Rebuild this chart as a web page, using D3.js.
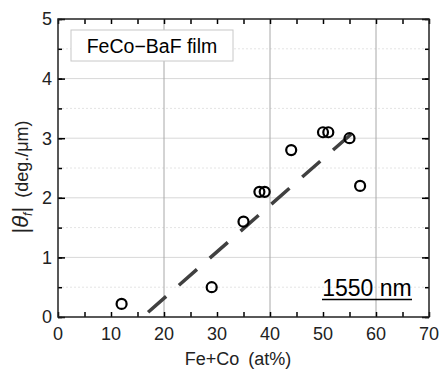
<!DOCTYPE html>
<html>
<head>
<meta charset="utf-8">
<script src="https://cdn.jsdelivr.net/npm/d3@7"></script>
<style>
  body { margin: 0; background: #fff; }
  text { font-family: "Liberation Sans", Arial, sans-serif; }
</style>
</head>
<body>
<svg id="chart" width="439" height="370"></svg>
<script>
// measured points
const feco = [12, 29, 35, 38, 39, 44, 50, 51, 55, 57];
const theta = [0.22, 0.5, 1.6, 2.1, 2.1, 2.8, 3.1, 3.1, 3.0, 2.2];
// dashed guide line (start, end)
const fitX = [17, 57];
const fitY = [0.08, 3.2];
const xTicks = [0, 10, 20, 30, 40, 50, 60, 70];
const yTicks = [0, 1, 2, 3, 4, 5];

const margin = { left: 58, right: 10, top: 19, bottom: 53 };
const width = 439, height = 370;

const svg = d3.select("#chart");

const x = d3.scaleLinear().domain([0, 70]).range([margin.left, width - margin.right]);
const y = d3.scaleLinear().domain([0, 5]).range([height - margin.bottom, margin.top]);

// grid
const grid = svg.append("g");
grid.selectAll(".gminor")
  .data([0.5, 1.5, 2.5, 3.5, 4.5])
  .enter().append("line")
  .attr("x1", x(0)).attr("x2", x(70))
  .attr("y1", d => y(d)).attr("y2", d => y(d))
  .style("stroke", "#e4e4e4")
  .style("stroke-dasharray", "2,2")
  .style("stroke-width", 1);
grid.selectAll(".gy")
  .data([1, 2, 3, 4])
  .enter().append("line")
  .attr("x1", x(0)).attr("x2", x(70))
  .attr("y1", d => y(d)).attr("y2", d => y(d))
  .style("stroke", "#d8d8d8")
  .style("stroke-width", 1);
grid.selectAll(".gx")
  .data([20, 40, 60])
  .enter().append("line")
  .attr("x1", d => x(d)).attr("x2", d => x(d))
  .attr("y1", y(0)).attr("y2", y(5))
  .style("stroke", "#a8a8a8")
  .style("stroke-width", 1);

// axes, ticks pointing inward
const xMinor = d3.range(0, 71, 5);
const yMinor = d3.range(0, 5.01, 0.5);
function tickGroup(axis, scale, vals, size) {
  return svg.append("g").call(axis(scale).tickValues(vals).tickSize(size).tickFormat(""));
}
tickGroup(d3.axisBottom, x, xMinor, -5).attr("transform", `translate(0,${y(0)})`);
tickGroup(d3.axisTop, x, xMinor, -5).attr("transform", `translate(0,${y(5)})`);
tickGroup(d3.axisLeft, y, yMinor, -4).attr("transform", `translate(${x(0)},0)`);
tickGroup(d3.axisRight, y, yMinor, -4).attr("transform", `translate(${x(70)},0)`);
tickGroup(d3.axisLeft, y, yTicks, -7).attr("transform", `translate(${x(0)},0)`);
tickGroup(d3.axisRight, y, yTicks, -7).attr("transform", `translate(${x(70)},0)`);
svg.selectAll(".domain").remove();
svg.selectAll(".tick line").style("stroke", "#000").style("stroke-width", 1.5);

// frame
svg.append("rect")
  .attr("x", x(0)).attr("y", y(5))
  .attr("width", x(70) - x(0)).attr("height", y(0) - y(5))
  .attr("fill", "none")
  .style("stroke", "#222")
  .style("stroke-width", 1.5);

// tick labels
svg.selectAll(".xl")
  .data(xTicks)
  .enter().append("text")
  .attr("x", d => x(d))
  .attr("y", y(0) + 23)
  .attr("text-anchor", "middle")
  .style("font-size", "18px")
  .attr("fill", "#222")
  .text(d => d);
svg.selectAll(".yl")
  .data(yTicks)
  .enter().append("text")
  .attr("x", x(0) - 6)
  .attr("y", d => y(d))
  .attr("dy", "0.36em")
  .attr("text-anchor", "end")
  .style("font-size", "18px")
  .attr("fill", "#222")
  .text(d => d);

// axis titles
svg.append("text")
  .attr("x", 238).attr("y", 365)
  .attr("text-anchor", "middle")
  .style("font-size", "18px")
  .attr("fill", "#222")
  .text("Fe+Co\u2002(at%)");

const yt = svg.append("text")
  .attr("transform", `translate(28,177) rotate(-90)`)
  .attr("text-anchor", "middle")
  .style("font-size", "18px")
  .attr("fill", "#222");
yt.append("tspan").style("font-size", "22px").text("|");
yt.append("tspan").style("font-style", "italic").style("font-size", "22px").text("\u03b8");
yt.append("tspan").style("font-style", "italic").style("font-size", "12px").attr("dy", 4).text("f");
yt.append("tspan").style("font-size", "22px").attr("dy", -4).text("|");
yt.append("tspan").text("\u2002(deg./\u03bcm)");

// dashed line
svg.append("line")
  .attr("x1", x(fitX[0])).attr("y1", y(fitY[0]))
  .attr("x2", x(fitX[1])).attr("y2", y(fitY[1]))
  .style("stroke", "#404040")
  .style("stroke-width", 3.5)
  .style("stroke-dasharray", "24,17");

// points
svg.selectAll(".pt")
  .data(feco)
  .enter().append("circle")
  .attr("cx", d => x(d))
  .attr("cy", (d, i) => y(theta[i]))
  .attr("r", 5)
  .attr("fill", "none")
  .style("stroke", "#000")
  .style("stroke-width", 2.2);

// legend box
svg.append("rect")
  .attr("x", 71).attr("y", 30)
  .attr("width", 162).attr("height", 31)
  .attr("fill", "#fff")
  .style("stroke", "#c8c8c8")
  .style("stroke-width", 1);
svg.append("text")
  .attr("x", 152).attr("y", 53)
  .attr("text-anchor", "middle")
  .style("font-size", "19.5px")
  .attr("fill", "#000")
  .text("FeCo\u2212BaF film");

// wavelength label
svg.append("text")
  .attr("x", 367).attr("y", 296)
  .attr("text-anchor", "middle")
  .style("font-size", "23px")
  .attr("fill", "#000")
  .text("1550 nm");
svg.append("line")
  .attr("x1", 322).attr("x2", 412)
  .attr("y1", 299.5).attr("y2", 299.5)
  .style("stroke", "#000")
  .style("stroke-width", 1.5);
</script>
</body>
</html>
